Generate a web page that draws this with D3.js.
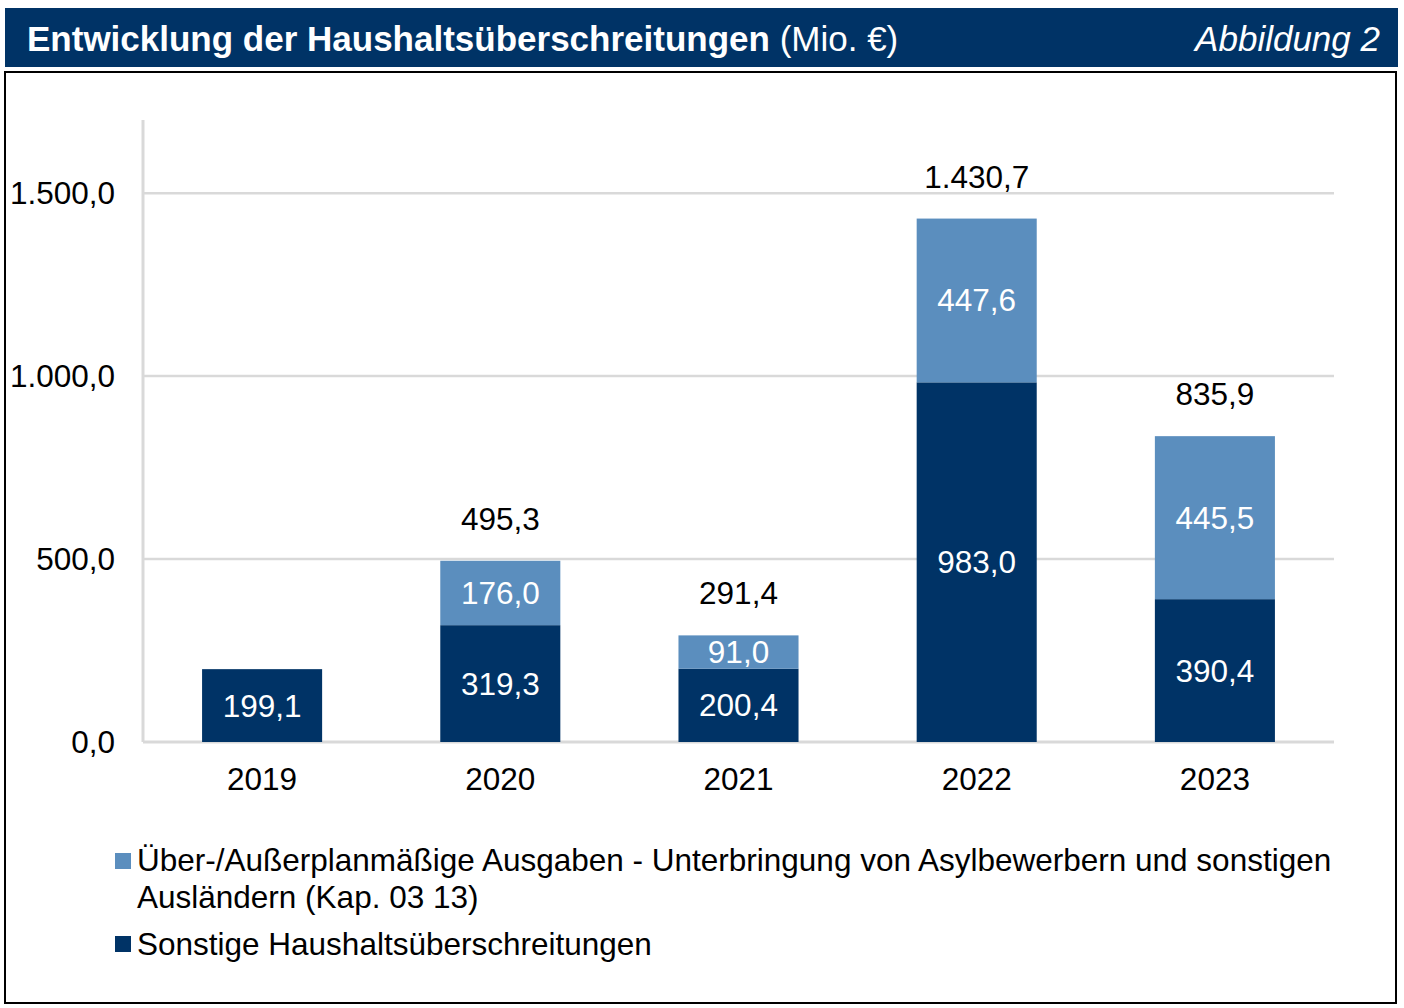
<!DOCTYPE html>
<html><head><meta charset="utf-8">
<script src="https://cdn.jsdelivr.net/npm/d3@7"></script>
<style>body{margin:0;background:#fff;}svg{display:block;font-family:"Liberation Sans",Arial,sans-serif;}</style>
</head><body>
<svg id="c" width="1404" height="1008"></svg>
<script>
const years = ["2019","2020","2021","2022","2023"];
const sonstige = [199.1, 319.3, 200.4, 983.0, 390.4];
const asyl = [0, 176.0, 91.0, 447.6, 445.5];
const totals = [null, 495.3, 291.4, 1430.7, 835.9];
const yTicks = [0, 500, 1000, 1500];
const seriesNames = ["Über-/Außerplanmäßige Ausgaben - Unterbringung von Asylbewerbern und sonstigen", "Ausländern (Kap. 03 13)", "Sonstige Haushaltsüberschreitungen"];
const titleBold = "Entwicklung der Haushaltsüberschreitungen";
const titleNormal = " (Mio. €)";
const figLabel = "Abbildung 2";

const dark = "#003366", light = "#5b8ebe";
const FS = 31.5;
const fmt = v => { const s = d3.format(",.1f")(v); return s.replace(/,/g,"X").replace(/\./g,",").replace(/X/g,"."); };

const svg = d3.select("#c");
// header
svg.append("rect").attr("x",5).attr("y",8).attr("width",1393).attr("height",59).attr("fill",dark);
const t = svg.append("text").attr("x",27).attr("y",50.5).attr("fill","#fff").attr("font-size",35);
t.append("tspan").attr("font-weight","bold").text(titleBold);
t.append("tspan").text(titleNormal);
svg.append("text").attr("x",1380).attr("y",50.5).attr("fill","#fff").attr("font-size",35)
  .attr("font-style","italic").attr("text-anchor","end").text(figLabel);
// frame
svg.append("rect").attr("x",5).attr("y",72).attr("width",1391).attr("height",931)
  .attr("fill","none").attr("stroke","#000").attr("stroke-width",2);

const x = d3.scaleBand().domain(years).range([143,1334]).paddingInner(0.496).paddingOuter(0.248);
const y = d3.scaleLinear().domain([0,1700]).range([742,120]);

const g = svg.append("g");
g.selectAll(".grid").data(yTicks.filter(d=>d>0)).join("line")
  .attr("x1",143).attr("x2",1334).attr("y1",d=>y(d)).attr("y2",d=>y(d))
  .attr("stroke","#d9d9d9").attr("stroke-width",2.5);
g.append("line").attr("x1",143).attr("x2",143).attr("y1",y(1700)).attr("y2",y(0))
  .attr("stroke","#d9d9d9").attr("stroke-width",3);
g.append("line").attr("x1",143).attr("x2",1334).attr("y1",y(0)).attr("y2",y(0))
  .attr("stroke","#d9d9d9").attr("stroke-width",3);

g.selectAll(".yt").data(yTicks).join("text")
  .attr("x",115).attr("y",d=>y(d)+11).attr("text-anchor","end").attr("font-size",FS).attr("fill","#000")
  .text(d=>fmt(d));
g.selectAll(".xt").data(years).join("text")
  .attr("x",d=>x(d)+x.bandwidth()/2).attr("y",790).attr("text-anchor","middle").attr("font-size",FS)
  .text(d=>d);

// bars
g.selectAll(".b1").data(years).join("rect")
  .attr("x",d=>x(d)).attr("width",x.bandwidth())
  .attr("y",(d,i)=>y(sonstige[i])).attr("height",(d,i)=>y(0)-y(sonstige[i])).attr("fill",dark);
g.selectAll(".b2").data(years.filter((d,i)=>asyl[i]>0)).join("rect")
  .attr("x",d=>x(d)).attr("width",x.bandwidth())
  .attr("y",d=>{const i=years.indexOf(d);return y(sonstige[i]+asyl[i]);})
  .attr("height",d=>{const i=years.indexOf(d);return y(sonstige[i])-y(sonstige[i]+asyl[i]);}).attr("fill",light);

// labels
g.selectAll(".l1").data(years).join("text")
  .attr("x",d=>x(d)+x.bandwidth()/2).attr("y",(d,i)=>y(sonstige[i]/2)+11)
  .attr("text-anchor","middle").attr("font-size",FS).attr("fill","#fff").text((d,i)=>fmt(sonstige[i]));
g.selectAll(".l2").data(years.filter((d,i)=>asyl[i]>0)).join("text")
  .attr("x",d=>x(d)+x.bandwidth()/2).attr("y",d=>{const i=years.indexOf(d);return y(sonstige[i]+asyl[i]/2)+11;})
  .attr("text-anchor","middle").attr("font-size",FS).attr("fill","#fff").text(d=>fmt(asyl[years.indexOf(d)]));
g.selectAll(".lt").data(years.filter((d,i)=>totals[i]!=null)).join("text")
  .attr("x",d=>x(d)+x.bandwidth()/2).attr("y",d=>y(totals[years.indexOf(d)])-31)
  .attr("text-anchor","middle").attr("font-size",FS).attr("fill","#000").text(d=>fmt(totals[years.indexOf(d)]));

// legend
svg.append("rect").attr("x",115).attr("y",853).attr("width",16).attr("height",16).attr("fill",light);
svg.append("text").attr("x",137).attr("y",871).attr("font-size",FS).text(seriesNames[0]);
svg.append("text").attr("x",137).attr("y",908).attr("font-size",FS).text(seriesNames[1]);
svg.append("rect").attr("x",115).attr("y",936).attr("width",16).attr("height",16).attr("fill",dark);
svg.append("text").attr("x",137).attr("y",955).attr("font-size",FS).text(seriesNames[2]);
</script>
</body></html>
